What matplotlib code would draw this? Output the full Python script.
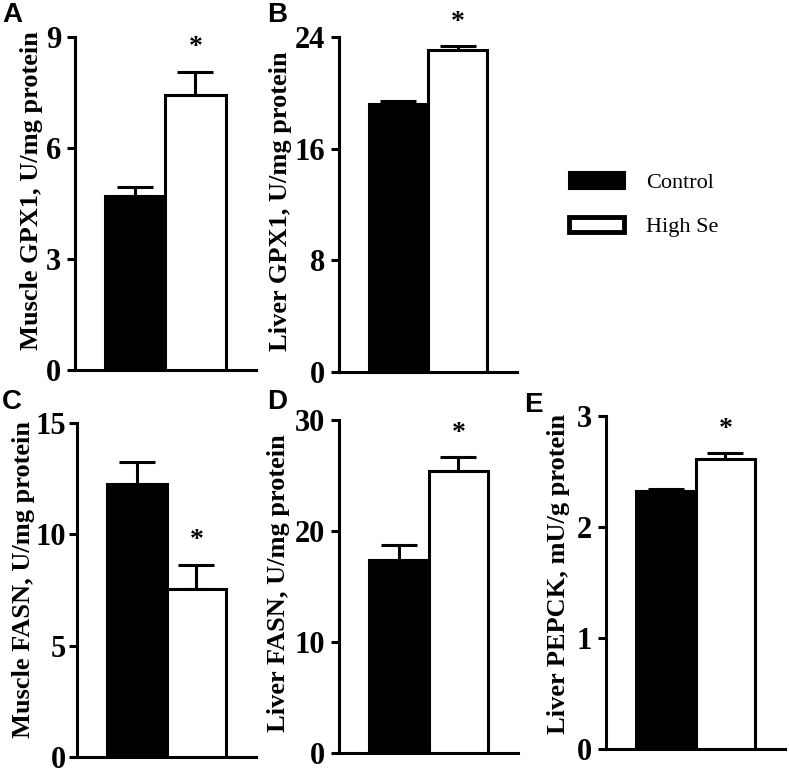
import matplotlib
matplotlib.use('Agg')
import matplotlib.pyplot as plt

plt.rcParams['font.family'] = ['Liberation Serif', 'DejaVu Serif']

# data
panels = ['A', 'B', 'C', 'D', 'E']
ylabels = ['Muscle GPX1, U/mg protein', 'Liver GPX1, U/mg protein',
           'Muscle FASN, U/mg protein', 'Liver FASN, U/mg protein',
           'Liver PEPCK, mU/g protein']
groups = ['Control', 'High Se']
control_mean = [4.71, 19.2, 12.24, 17.4, 2.325]
control_err = [0.25, 0.22, 1.0, 1.35, 0.018]
highse_mean = [7.44, 23.1, 7.54, 25.44, 2.613]
highse_err = [0.63, 0.29, 1.1, 1.26, 0.051]
signif = [True, True, True, True, True]
ymax = [9, 24, 15, 30, 3]
ystep = [3, 8, 5, 10, 1]

# axes boxes in figure fractions [left, bottom, width, height]
boxes = [
    [0.0951, 0.522, 0.229, 0.430],
    [0.4297, 0.520, 0.2256, 0.432],
    [0.0976, 0.022, 0.227, 0.4315],
    [0.4297, 0.0271, 0.2269, 0.430],
    [0.768, 0.0323, 0.227, 0.430],
]
label_xy = [(-0.177, 0.54), (-0.264, 0.51), (-0.235, 0.53), (-0.274, 0.51), (-0.201, 0.525)]
tick_pad = [4, 4, 2, 4, 4]
letter_pos = [(0.003, 0.997), (0.338, 0.997), (0.003, 0.497), (0.338, 0.497), (0.664, 0.493)]

lw = 2.2
F = plt.figure(figsize=(7.89, 7.74), dpi=100)

bars_for_legend = None
for k in range(5):
    ax = F.add_axes(boxes[k])
    b1 = ax.bar(0, control_mean[k], width=1.0, color='black', edgecolor='black', linewidth=lw, zorder=3)
    b2 = ax.bar(1, highse_mean[k], width=1.0, color='white', edgecolor='black', linewidth=lw, zorder=3)
    ax.errorbar([0, 1], [control_mean[k], highse_mean[k]],
                yerr=[[0, 0], [control_err[k], highse_err[k]]],
                fmt='none', ecolor='black', elinewidth=lw, capsize=13, capthick=lw, zorder=2)
    if bars_for_legend is None:
        bars_for_legend = (b1, b2)
    if signif[k]:
        ax.annotate('*', xy=(1, highse_mean[k] + highse_err[k]), xytext=(0, 8),
                    textcoords='offset points', ha='center', va='bottom',
                    fontsize=20, fontweight='bold', annotation_clip=False)
    ax.set_xlim(-1, 2)
    ax.set_ylim(0, ymax[k])
    ax.set_yticks(range(0, ymax[k] + 1, ystep[k]))
    ax.set_xticks([])
    for s in ['top', 'right']:
        ax.spines[s].set_visible(False)
    for s in ['left', 'bottom']:
        ax.spines[s].set_linewidth(lw)
    ax.tick_params(axis='y', direction='out', length=6, width=lw, labelsize=22, pad=tick_pad[k])
    for t in ax.get_yticklabels():
        t.set_fontweight('bold')
    ax.set_ylabel(ylabels[k], fontsize=19, fontweight='bold')
    ax.yaxis.set_label_coords(*label_xy[k])
    F.text(letter_pos[k][0], letter_pos[k][1], panels[k], family='Liberation Sans',
           fontsize=20, fontweight='bold', ha='left', va='top')

leg = F.legend(bars_for_legend, groups, loc='upper left', bbox_to_anchor=(0.696, 0.803),
               frameon=False, fontsize=16, handlelength=2.45, handleheight=0.72,
               handletextpad=1.0, labelspacing=1.05)
leg.legend_handles[1].set_linewidth(3.5)

F.savefig('out.png', dpi=100)
